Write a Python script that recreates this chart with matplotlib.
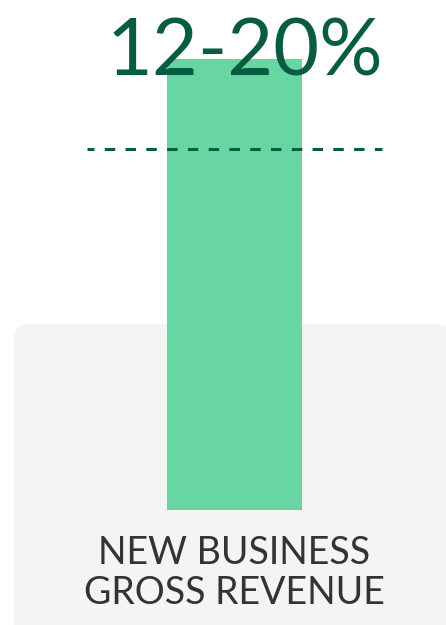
import matplotlib
matplotlib.use("Agg")
import matplotlib.pyplot as plt
from matplotlib.patches import FancyBboxPatch

# data
categories = ["NEW BUSINESS\nGROSS REVENUE"]
values = [20]
marker_value = 16
headline = "12-20%"

bar_color = "#68d6a3"
dark_green = "#075c41"
label_gray = "#333333"

W, H = 446, 625
fig = plt.figure(figsize=(W / 100, H / 100), dpi=100)
fig.patch.set_facecolor("white")

# rounded gray panel behind the lower part
panel = FancyBboxPatch((14 / W, -0.05), (452 - 14) / W, (625 - 324) / H + 0.05,
                       boxstyle="round,pad=0,rounding_size=0.035",
                       transform=fig.transFigure, facecolor="#f3f4f3",
                       edgecolor="none", mutation_aspect=W / H, zorder=-5)
fig.patches.append(panel)

ax = fig.add_axes([0, 0, 1, 1])
ax.set_facecolor("none")
ax.set_zorder(1)

px = 451 / values[0]  # pixels per unit
ax.set_ylim(-115 / px, values[0] + 59 / px)
ax.set_xlim(-234.5 / 135, (W - 234.5) / 135)

ax.bar(range(len(values)), values, width=1.0, color=bar_color, zorder=2)
ax.hlines(marker_value, (87 - 234.5) / 135, (382 - 234.5) / 135,
          colors=dark_green, linewidth=2.2,
          linestyles=(1.15, (3.43, 3.37)), zorder=3)

ax.text(0.08, values[0] - (75 - 59) / px, headline,
        ha="center", va="baseline", fontsize=57, color=dark_green,
        family="Lato", zorder=4)

line1, line2 = categories[0].split("\n")
ax.text(0.0, -(564 - 510) / px, line1, ha="center",
        va="baseline", fontsize=27, color=label_gray, family="Lato")
ax.text(0.0, -(604 - 510) / px, line2, ha="center",
        va="baseline", fontsize=27, color=label_gray, family="Lato")

ax.axis("off")
fig.savefig("out.png", dpi=100)
